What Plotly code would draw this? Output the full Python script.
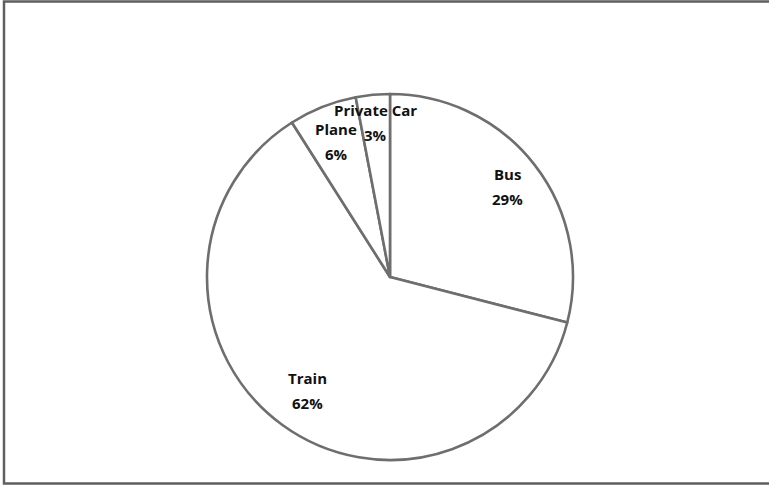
import math
import plotly.graph_objects as go

labels = ["Bus", "Train", "Plane", "Private Car"]
values = [29, 62, 6, 3]

W, H = 769, 485
cx, cy, R = 390, 277, 183
label_radius = [0.81, 0.77, 0.795, 0.85]  # fraction of radius where each label sits
line_gap = 12.5

fig = go.Figure(go.Pie(
    labels=labels, values=values, sort=False, direction="clockwise", rotation=0,
    marker=dict(colors=["white"] * len(values), line=dict(color="#6e6e6e", width=2.6)),
    textinfo="none", hoverinfo="label+percent", showlegend=False,
    domain=dict(x=[(cx - R) / W, (cx + R) / W], y=[1 - (cy + R) / H, 1 - (cy - R) / H]),
))

total = sum(values)
cum = 0
annotations = []
for lab, v, fr in zip(labels, values, label_radius):
    mid = (cum + v / 2) / total * 2 * math.pi
    cum += v
    px = cx + fr * R * math.sin(mid)
    py = cy - fr * R * math.cos(mid)
    pct = f"{round(v / total * 100)}%"
    for txt, dy in ((lab, -line_gap), (pct, line_gap)):
        annotations.append(dict(
            x=px / W, y=1 - (py + dy) / H, xref="paper", yref="paper",
            text=f"<b>{txt}</b>", showarrow=False,
            font=dict(family="Open Sans", size=15, color="#111111"),
            xanchor="center", yanchor="middle",
        ))

fig.update_layout(
    width=W, height=H, margin=dict(l=0, r=0, t=0, b=0),
    paper_bgcolor="white", plot_bgcolor="white",
    annotations=annotations,
    shapes=[dict(type="rect", xref="paper", yref="paper",
                 x0=4 / W, x1=1.02, y0=1 - 483.5 / H, y1=1 - 1.5 / H,
                 line=dict(color="#5f5f5f", width=2.5), fillcolor="rgba(0,0,0,0)")],
)
fig.write_html("out.html")
